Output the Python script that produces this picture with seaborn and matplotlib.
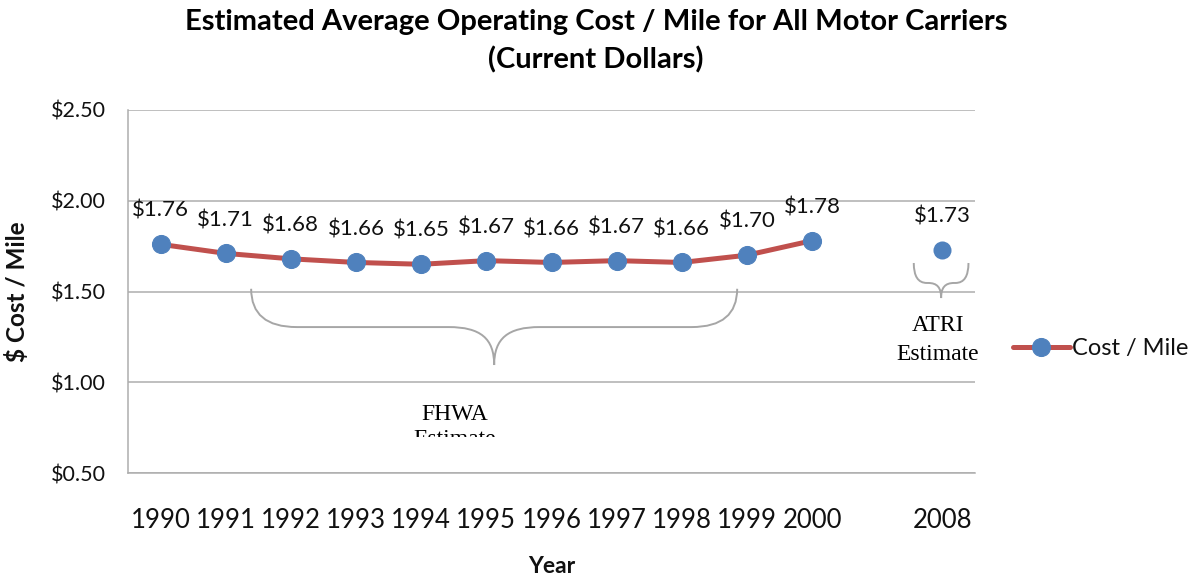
import matplotlib
matplotlib.use("Agg")
import matplotlib.pyplot as plt
from matplotlib.path import Path
from matplotlib.patches import PathPatch, Rectangle
import seaborn as sns
import pandas as pd

# ---- data ----
years = ["1990", "1991", "1992", "1993", "1994", "1995", "1996", "1997",
         "1998", "1999", "2000", "", "2008"]
fhwa_years = ["1990", "1991", "1992", "1993", "1994", "1995", "1996",
              "1997", "1998", "1999", "2000"]
fhwa_cost = [1.76, 1.71, 1.68, 1.66, 1.65, 1.67, 1.66, 1.67, 1.66, 1.70, 1.78]
atri_years = ["2008"]
atri_cost = [1.73]
yticks = [0.5, 1.0, 1.5, 2.0, 2.5]
ytick_labels = ["$0.50", "$1.00", "$1.50", "$2.00", "$2.50"]

RED = "#C0504D"
BLUE = "#4F81BD"
GRID = "#ADADAD"
BRACE = "#A6A6A6"
INK = "#111111"

sns.set_theme(style="white")
plt.rcParams['font.family'] = ['Lato', 'DejaVu Sans']
plt.rcParams.update({"text.color": INK, "axes.labelcolor": INK,
                     "xtick.color": INK, "ytick.color": INK})

pos = {y: i for i, y in enumerate(years)}
df_f = pd.DataFrame({"pos": [pos[y] for y in fhwa_years], "cost": fhwa_cost})
df_a = pd.DataFrame({"pos": [pos[y] for y in atri_years], "cost": atri_cost})

fig = plt.figure(figsize=(12.04, 5.80), dpi=100)
ax = fig.add_axes([128 / 1204, 1 - 473 / 580, (975 - 128) / 1204, (473 - 110) / 580])

sns.lineplot(data=df_f, x="pos", y="cost", ax=ax, color=RED, linewidth=3.6,
             marker="o", markersize=13, markerfacecolor=BLUE,
             markeredgecolor=BLUE, label="Cost / Mile", zorder=3)
sns.scatterplot(data=df_a, x="pos", y="cost", ax=ax, color=BLUE, s=13 ** 2,
                edgecolor=BLUE, linewidth=0, zorder=3, legend=False)

# data labels
for d in (df_f, df_a):
    for x, v in zip(d["pos"], d["cost"]):
        ax.annotate(f"${v:.2f}", (x, v), xytext=(0, 24), textcoords="offset points",
                    ha="center", va="center", fontsize=16, color=INK)

ax.set_xlim(-0.5, len(years) - 0.5)
ax.set_ylim(0.5, 2.5)
ax.set_xticks(range(len(years)))
ax.set_xticklabels(years, fontsize=18.5)
ax.set_yticks(yticks)
ax.set_yticklabels(ytick_labels, fontsize=15.5)
ax.tick_params(axis="x", length=0, pad=25)
ax.tick_params(axis="y", length=0, pad=16)
ax.yaxis.grid(True, color=GRID, linewidth=1.1)
ax.xaxis.grid(False)
for s in ["top", "right"]:
    ax.spines[s].set_visible(False)
for s in ["left", "bottom"]:
    ax.spines[s].set_color(GRID)
    ax.spines[s].set_linewidth(1.1)

ax.set_xlabel("Year", fontsize=16.5, fontweight="bold", labelpad=17)
ax.set_ylabel("$ Cost / Mile", fontsize=17.5, fontweight="bold", labelpad=16)


def brace(ax, x0, x1, ytop, ymid, ytip, r):
    xc = (x0 + x1) / 2
    verts = [(x0, ytop), (x0, ymid), (x0 + r, ymid),
             (xc - r, ymid),
             (xc - 0.3 * r, ymid), (xc, ymid - 0.3 * (ymid - ytip)), (xc, ytip),
             (xc, ymid - 0.3 * (ymid - ytip)), (xc + 0.3 * r, ymid), (xc + r, ymid),
             (x1 - r, ymid),
             (x1, ymid), (x1, ytop)]
    codes = [Path.MOVETO, Path.CURVE3, Path.CURVE3,
             Path.LINETO,
             Path.CURVE4, Path.CURVE4, Path.CURVE4,
             Path.CURVE4, Path.CURVE4, Path.CURVE4,
             Path.LINETO,
             Path.CURVE3, Path.CURVE3]
    ax.add_patch(PathPatch(Path(verts, codes), facecolor="none", edgecolor=BRACE,
                           linewidth=1.4, zorder=2, clip_on=False))


brace(ax, 1.39, 8.85, 1.515, 1.304, 1.095, 0.7)
brace(ax, 11.56, 12.40, 1.657, 1.547, 1.464, 0.2)

serif = ["Liberation Serif", "DejaVu Serif"]
t = ax.text(4.52, 0.822, "FHWA", ha="center", va="center", fontsize=17,
            family=serif, color="black")
t2 = ax.text(4.52, 0.682, "Estimate", ha="center", va="center", fontsize=17,
             family=serif, color="black")
clip = Rectangle((-0.5, 0.698), 13, 2, transform=ax.transData, visible=False)
ax.add_patch(clip)
t2.set_clip_on(True)
t2.set_clip_path(clip)
ax.text(11.93, 1.31, "ATRI", ha="center", va="center", fontsize=17,
        family=serif, color="black", clip_on=False)
ax.text(11.93, 1.155, "Estimate", ha="center", va="center", fontsize=17,
        family=serif, color="black", clip_on=False)

leg = ax.legend(loc="center left", bbox_to_anchor=(1013 / 1204, 1 - 349 / 580),
                bbox_transform=fig.transFigure, frameon=False, fontsize=17,
                handlelength=2.4, handletextpad=0.1, borderpad=0, borderaxespad=0)

fig.text(0.495, 1 - 22 / 580, "Estimated Average Operating Cost / Mile for All Motor Carriers",
         ha="center", va="center", fontsize=21, fontweight="bold", color="black")
fig.text(0.495, 1 - 60 / 580, "(Current Dollars)",
         ha="center", va="center", fontsize=21, fontweight="bold", color="black")

fig.savefig("out.png", dpi=100)
